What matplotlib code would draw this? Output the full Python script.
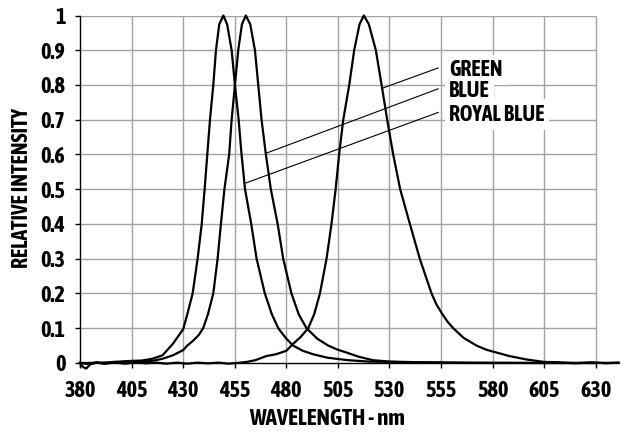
import matplotlib
matplotlib.use("Agg")
import matplotlib.pyplot as plt
import numpy as np

plt.rcParams['font.family'] = ['Asap Condensed', 'DejaVu Sans']
plt.rcParams['font.weight'] = 'bold'

# spectra (wavelength nm, relative intensity)
royal_nm = [380, 381.5, 383, 385, 388, 392, 396, 400, 405, 410, 415, 420, 425, 430, 432,
            434.6, 437, 439, 440.4, 441.7, 443, 444.6, 445.9, 447.5, 449.5, 451.3, 453.5,
            455.1, 456.9, 458.3, 460, 463, 465.6, 469.6, 473, 476.1, 480, 483.3, 488, 493,
            500, 510, 520, 540, 560, 600, 641]
royal_val = [0.0, -0.012, -0.016, -0.004, 0.001, -0.002, 0.003, 0.004, 0.006, 0.007, 0.012,
             0.022, 0.055, 0.097, 0.14, 0.2, 0.3, 0.4, 0.5, 0.6, 0.7, 0.8, 0.9, 0.975, 1.0,
             0.975, 0.9, 0.8, 0.7, 0.6, 0.5, 0.4, 0.3, 0.2, 0.14, 0.1, 0.07, 0.05, 0.035,
             0.025, 0.015, 0.008, 0.004, 0.002, 0.001, 0.0, 0.0]

blue_nm = [380, 385, 390, 395, 400, 405, 410, 415, 420, 425, 430, 432, 435, 437.5, 439.7,
           442, 444.6, 446.7, 448.3, 450, 452.3, 453.5, 455.1, 456.7, 458.5, 460.4, 462.5,
           464.8, 466.4, 468, 470.1, 472.5, 475.8, 478.5, 482.5, 486, 489.8, 495, 500.3,
           505, 509.2, 515, 522, 530, 545, 570, 641]
blue_val = [0.0, 0.0, 0.001, 0.002, 0.003, 0.004, 0.004, 0.006, 0.012, 0.022, 0.037, 0.05,
            0.065, 0.08, 0.1, 0.14, 0.2, 0.3, 0.4, 0.5, 0.6, 0.7, 0.8, 0.9, 0.975, 1.0,
            0.975, 0.9, 0.8, 0.7, 0.6, 0.5, 0.4, 0.3, 0.2, 0.14, 0.1, 0.07, 0.05, 0.038,
            0.03, 0.018, 0.008, 0.004, 0.002, 0.0, 0.0]

green_nm = [380, 384, 388, 392, 397, 402, 407, 412, 417, 422, 427, 432, 437, 442, 447, 452,
            456, 460.8, 465, 470.4, 475, 480, 483.3, 487, 490.6, 493.5, 496.3, 499.5, 501.9,
            503.9, 505.6, 507.6, 510.5, 512.9, 515.5, 517.6, 520, 523.4, 526.2, 528.9,
            531.8, 535.2, 539.9, 544.7, 550.4, 552.8, 555.5, 558, 560.9, 566, 572.2, 577,
            581.9, 588, 596.4, 605, 612, 620, 628, 635, 641]
green_val = [0.0, -0.003, 0.002, -0.002, 0.001, -0.002, 0.002, -0.001, 0.001, -0.002, 0.001,
             -0.002, 0.001, -0.001, 0.001, -0.002, 0.0, 0.003, 0.008, 0.02, 0.025, 0.035,
             0.055, 0.075, 0.1, 0.14, 0.2, 0.3, 0.4, 0.5, 0.6, 0.7, 0.8, 0.9, 0.975, 1.0,
             0.975, 0.9, 0.8, 0.7, 0.6, 0.5, 0.4, 0.3, 0.2, 0.168, 0.142, 0.12, 0.1, 0.072,
             0.05, 0.038, 0.03, 0.02, 0.01, 0.003, 0.002, -0.001, 0.002, -0.001, 0.001]

x_ticks = [380, 405, 430, 455, 480, 505, 530, 555, 580, 605, 630]
y_ticks = [0, 0.1, 0.2, 0.3, 0.4, 0.5, 0.6, 0.7, 0.8, 0.9, 1]
y_tick_labels = ['0', '0.1', '0.2', '0.3', '0.4', '0.5', '0.6', '0.7', '0.8', '0.9', '1']

labels = ['GREEN', 'BLUE', 'ROYAL BLUE']
label_anchor = [(553.6, 0.849), (553.6, 0.789), (553.6, 0.721)]
label_target = [(526.2, 0.790), (470.4, 0.604), (460.4, 0.518)]

fig = plt.figure(figsize=(6.28, 4.33), dpi=100)
ax = fig.add_axes([0.1274, 0.1441, 0.8574, 0.8201])
ax.set_xlim(380, 641)
ax.set_ylim(-0.022, 1.0)

grid_c = '#a3a3a3'
ax.hlines(y_ticks[1:], 380, 630, color=grid_c, lw=1.0, zorder=1)
ax.vlines(x_ticks[1:], 0, 1, color=grid_c, lw=1.0, zorder=1)

for nm, val in [(royal_nm, royal_val), (blue_nm, blue_val), (green_nm, green_val)]:
    ax.plot(nm, val, color='black', lw=1.6, zorder=3, clip_on=False)

for txt, (ax0, ay0), (tx, ty) in zip(labels, label_anchor, label_target):
    ax.plot([tx, ax0], [ty, ay0], color='black', lw=0.8, zorder=4)
    ax.text(ax0 + 5.4, ay0 - 0.006, txt, fontsize=15.5, fontweight='bold', va='center',
            ha='left', zorder=5,
            bbox=dict(boxstyle='square,pad=0.2', fc='white', ec='none'))

for s in ['top', 'right']:
    ax.spines[s].set_visible(False)
ax.spines['bottom'].set_position(('data', 0))
ax.spines['bottom'].set_bounds(380, 630)
ax.spines['left'].set_bounds(-0.01, 1)
ax.spines['left'].set_linewidth(1.0)
ax.spines['bottom'].set_linewidth(1.0)

ax.set_xticks(x_ticks)
ax.set_yticks(y_ticks)
ax.set_yticklabels(y_tick_labels)
ax.tick_params(axis='x', direction='out', length=3.6, width=1.0, pad=9, labelsize=16)
ax.tick_params(axis='y', direction='out', length=3.6, width=1.0, pad=7, labelsize=16)
for lab in ax.get_xticklabels() + ax.get_yticklabels():
    lab.set_fontweight('bold')

fig.text(327 / 628, 1 - 419 / 433, 'WAVELENGTH - nm', fontsize=16.5, fontweight='bold',
         ha='center', va='center')
fig.text(22 / 628, 1 - 188.5 / 433, 'RELATIVE INTENSITY', fontsize=15.5, fontweight='bold',
         ha='center', va='center', rotation=90)

fig.savefig('out.png', dpi=100)
